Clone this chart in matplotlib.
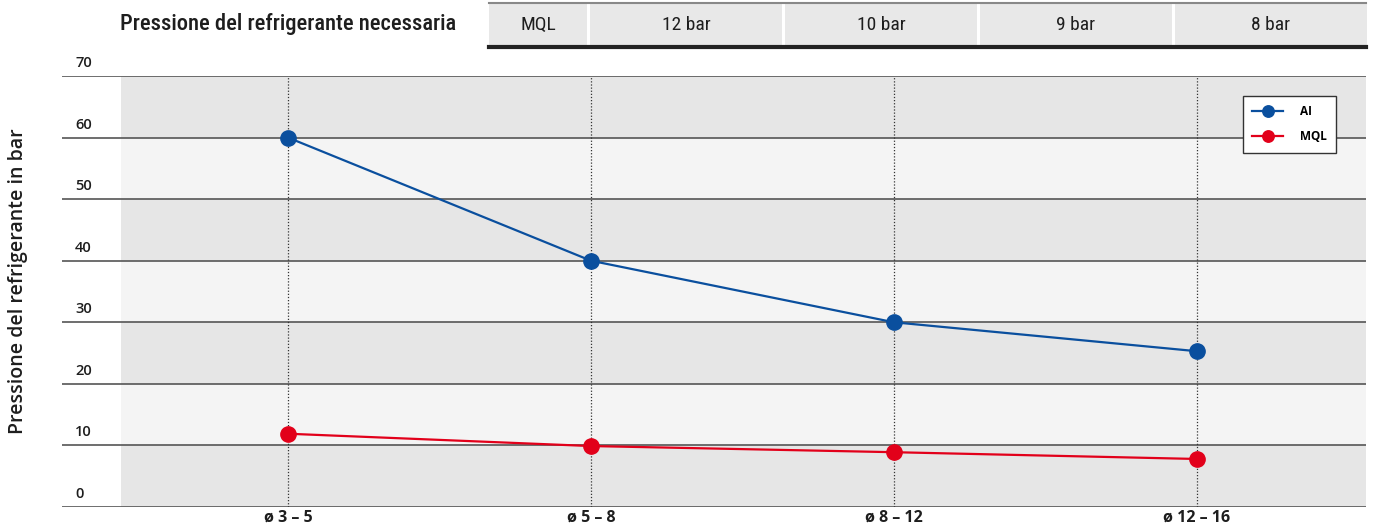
import matplotlib
matplotlib.use("Agg")
import matplotlib.pyplot as plt
from matplotlib.patches import Rectangle

# data
categories = ["ø 3 – 5", "ø 5 – 8", "ø 8 – 12", "ø 12 – 16"]
ai_values = [60, 40, 30, 25.3]
mql_values = [11.9, 9.9, 8.9, 7.8]
y_ticks = [0, 10, 20, 30, 40, 50, 60, 70]
header_title = "Pressione del refrigerante necessaria"
header_labels = ["MQL", "12 bar", "10 bar", "9 bar", "8 bar"]

BLUE = "#0a4f9e"
RED = "#e2001a"
DARK_BAND = "#e6e6e6"
LIGHT_BAND = "#f4f4f4"
GRID = "#555555"
TXT = "#1e1e1e"
OPEN = ["Open Sans", "DejaVu Sans"]

plt.rcParams["font.family"] = ["Roboto Condensed", "DejaVu Sans"]

W, H = 1373, 531
fig = plt.figure(figsize=(W / 100, H / 100), dpi=100)
ax = fig.add_axes([62 / W, 24 / H, 1304 / W, 431 / H])

x = list(range(len(categories)))
ax.set_xlim(-0.746, 3.558)
ax.set_ylim(0, 70)

# alternating bands, darkest at bottom
for i, lo in enumerate(y_ticks[:-1]):
    color = DARK_BAND if i % 2 == 0 else LIGHT_BAND
    ax.add_patch(Rectangle((-0.55, lo), 10, 10, facecolor=color,
                           edgecolor="none", zorder=0))

for v in y_ticks:
    ax.axhline(v, color=GRID, lw=1.2, zorder=1)
    ax.text(0.01, v + 2.1, str(v), transform=ax.get_yaxis_transform(),
            ha="left", va="center", fontsize=10.5, family=OPEN,
            fontweight="semibold", color=TXT)

for xi in x:
    ax.axvline(xi, color="#333", lw=0.9, ls=(0, (1, 1.5)), zorder=1)

ax.plot(x, ai_values, color=BLUE, lw=1.6, marker="o", markersize=11,
        label="AI", zorder=3)
ax.plot(x, mql_values, color=RED, lw=1.6, marker="o", markersize=11,
        label="MQL", zorder=3)

ax.set_xticks(x)
ax.set_xticklabels(categories, fontsize=11.5, fontweight="bold", color=TXT,
                   family=OPEN)
ax.set_yticks([])
ax.tick_params(axis="x", length=0, pad=2)
for s in ax.spines.values():
    s.set_visible(False)

leg = ax.legend(loc="upper right", bbox_to_anchor=(0.977, 0.954),
                borderaxespad=0, frameon=True, fancybox=False, edgecolor="#333",
                prop={"family": OPEN, "weight": "bold", "size": 8.5},
                handlelength=2.6, markerscale=0.75,
                borderpad=0.8, labelspacing=1.0, handletextpad=1.4,
                framealpha=1)
leg.get_frame().set_linewidth(1.0)

fig.text(18 / W, (H - 281) / H, "Pressione del refrigerante in bar",
         rotation=90, ha="center", va="center", fontsize=14,
         family=OPEN, fontweight="semibold", color=TXT)

# header table
hx = fig.add_axes([0, 1 - 50 / H, 1, 50 / H])
hx.set_xlim(0, W)
hx.set_ylim(50, 0)
hx.axis("off")
hx.text(120, 24, header_title, ha="left", va="center", fontsize=16.2,
        fontweight="medium", color=TXT)
left = 489
widths = [98] + [192] * (len(header_labels) - 1)
for lab, w in zip(header_labels, widths):
    hx.add_patch(Rectangle((left, 3), w, 44, facecolor="#e8e8e8",
                           edgecolor="none"))
    hx.text(left + w / 2, 25, lab, ha="center", va="center", fontsize=14,
            color=TXT)
    left += w + 3
hx.plot([489, 1366], [2.5, 2.5], color="#888", lw=1.5)
hx.plot([489, 1366], [47, 47], color="#222", lw=3)

fig.savefig("out.png", dpi=100)
